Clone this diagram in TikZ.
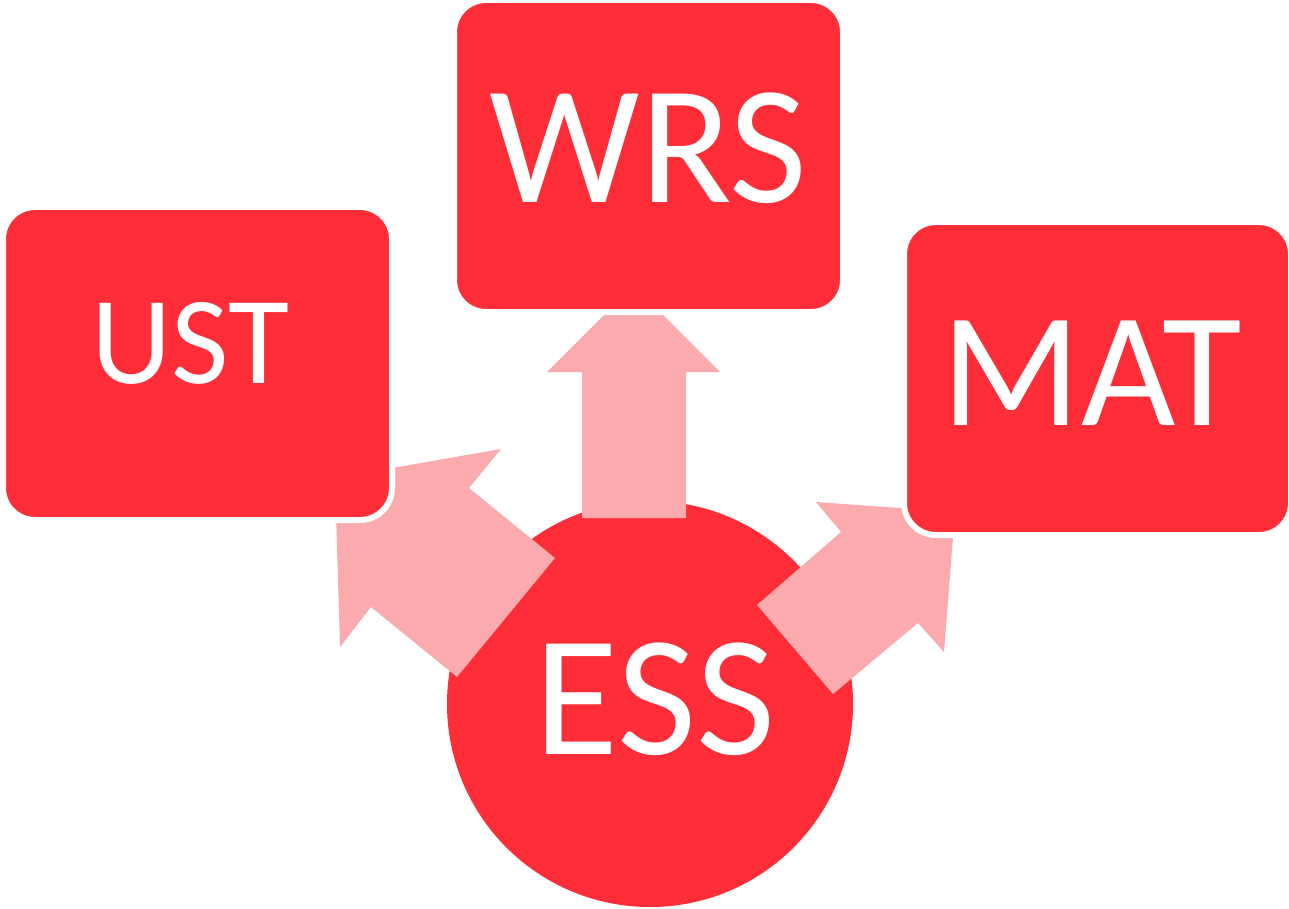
\documentclass[tikz,border=0pt]{standalone}
\usepackage{fontspec}
\setmainfont{Carlito}
\definecolor{boxred}{RGB}{254,45,56}
\definecolor{arrowpink}{RGB}{251,171,173}
\begin{document}
\begin{tikzpicture}[x=1pt,y=-1pt,
  box/.style={draw=white,line width=6pt,fill=boxred,rounded corners=32pt,inner sep=0pt,minimum width=389pt,minimum height=313pt},
  hub/.style={circle,fill=boxred,inner sep=0pt,minimum size=406pt},
  blockarrow/.style={fill=arrowpink},
  lbl/.style={text=white,inner sep=0pt,anchor=base}]
\useasboundingbox (0,0) rectangle (1289,909);
% central circle
\node[hub] (ess) at (650,704) {};
% block arrows
\fill[blockarrow] (582,518) -- (582,372) -- (547,372) -- (633.5,285.5) -- (720,372) -- (686,372) -- (686,518) -- cycle;
\fill[blockarrow] (555,558) -- (469,488) -- (501,449) -- (335,478) -- (340,647) -- (371,607) -- (457,677) -- cycle;
\fill[blockarrow] (757,605) -- (841,532) -- (816,502) -- (955,512) -- (944,652) -- (918,623) -- (833,694) -- cycle;
% boxes
\node[box,minimum height=312pt] (wrs) at (648.5,156) {};
\node[box] (ust) at (197.5,363.5) {};
\node[box,minimum width=387pt] (mat) at (1097.5,378.5) {};
% labels
\node[lbl,font=\fontsize{169}{169}\selectfont] (twrs) at (648.5,203) {WRS};
\node[lbl,font=\fontsize{125}{125}\selectfont] (tust) at (190,383) {UST};
\node[lbl,font=\fontsize{163}{163}\selectfont] (tmat) at (1092,425) {MAT};
\node[lbl,font=\fontsize{172}{172}\selectfont] (tess) at (655,754) {ESS};
\end{tikzpicture}
\end{document}
